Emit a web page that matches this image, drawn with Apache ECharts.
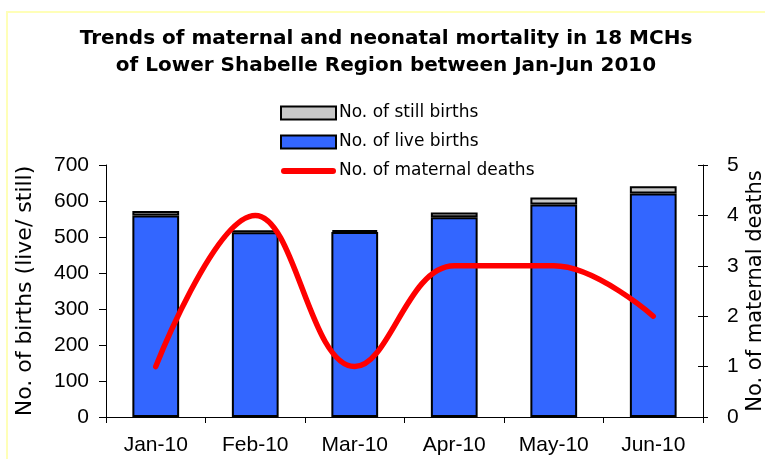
<!DOCTYPE html>
<html><head><meta charset="utf-8">
<script src="https://cdn.jsdelivr.net/npm/echarts@6/dist/echarts.min.js"></script>
<style>html,body{margin:0;padding:0;background:#fff}#c{width:765px;height:459px}</style>
</head><body><div id="c"></div>
<script>
const categories = ['Jan-10','Feb-10','Mar-10','Apr-10','May-10','Jun-10'];
const liveBirths = [560, 513, 514, 555, 590, 621];
const stillBirths = [12, 6, 5, 13, 20, 20];
const maternalDeaths = [1, 4, 1, 3, 3, 2];

const chart = echarts.init(document.getElementById('c'), null, {renderer:'canvas'});
const F = 'Liberation Sans, Arial, sans-serif';
const W = 'DejaVu Sans, Liberation Sans, sans-serif';
chart.setOption({
  animation:false,
  textStyle:{fontFamily:F},
  title:{
    text:'Trends of maternal and neonatal mortality in 18 MCHs\nof Lower Shabelle Region between Jan-Jun 2010',
    left:386, top:25, textAlign:'center', padding:0,
    textStyle:{fontSize:20, fontWeight:'bold', color:'#000', lineHeight:27, fontFamily:W}
  },
  graphic:[{type:'rect', shape:{x:7,y:12,width:770,height:460}, style:{fill:'none', stroke:'#FFFFB8', lineWidth:2}, silent:true}],
  legend:{
    orient:'vertical', left:280, top:104, itemGap:11, padding:0,
    itemWidth:55, itemHeight:13, symbolKeepAspect:true,
    textStyle:{fontSize:17, lineHeight:18, color:'#000', fontFamily:W, padding:[0,0,0,-2]},
    data:[
      {name:'No. of still births', icon:'rect', itemStyle:{color:'#C8C8C8', borderColor:'#000', borderWidth:2}},
      {name:'No. of live births', icon:'rect', itemStyle:{color:'#3366FF', borderColor:'#000', borderWidth:2}},
      {name:'No. of maternal deaths',
       icon:'path://M3,0 L52,0 A3,3 0 0 1 52,6 L3,6 A3,3 0 0 1 3,0 Z',
       itemStyle:{color:'#FF0000', borderWidth:0}, lineStyle:{width:0}}
    ]
  },
  grid:{left:106, right:62, top:165, bottom:42, containLabel:false, outerBoundsMode:'none'},
  xAxis:{
    type:'category', data:categories, boundaryGap:true,
    axisLine:{lineStyle:{color:'#000', width:1}},
    axisTick:{show:true, length:6, lineStyle:{color:'#000'}},
    axisLabel:{fontSize:21, color:'#000', margin:18, fontFamily:F}
  },
  yAxis:[
    {type:'value', min:0, max:700, interval:100, position:'left',
     name:'No. of births (live/ still)', nameLocation:'middle', nameGap:70, nameRotate:90,
     nameMoveOverlap:false,
     nameTextStyle:{fontSize:22, color:'#000', fontFamily:W},
     axisLine:{show:true, lineStyle:{color:'#000'}},
     axisTick:{show:true, length:7, lineStyle:{color:'#000'}},
     axisLabel:{fontSize:21, color:'#000', margin:17, fontFamily:F},
     splitLine:{show:false}},
    {type:'value', min:0, max:5, interval:1, position:'right',
     name:'No. of maternal deaths', nameLocation:'middle', nameGap:42, nameRotate:90,
     nameMoveOverlap:false,
     nameTextStyle:{fontSize:21, color:'#000', fontFamily:W},
     axisLine:{show:true, lineStyle:{color:'#000'}},
     axisTick:{show:true, length:5, lineStyle:{color:'#000'}},
     axisLabel:{fontSize:21, color:'#000', margin:24, fontFamily:F},
     splitLine:{show:false}},
    {type:'value', min:0, max:5, interval:1, position:'right',
     axisLine:{show:false}, axisLabel:{show:false},
     axisTick:{show:true, inside:true, length:5, lineStyle:{color:'#000'}},
     splitLine:{show:false}}
  ],
  series:[
    {name:'No. of live births', type:'bar', stack:'b', data:liveBirths, barWidth:'47%',
     itemStyle:{color:'#3366FF', borderColor:'#000', borderWidth:2}},
    {name:'No. of still births', type:'bar', stack:'b', data:stillBirths, barWidth:'47%',
     itemStyle:{color:'#C8C8C8', borderColor:'#000', borderWidth:2}},
    {name:'No. of maternal deaths', type:'line', yAxisIndex:1, data:maternalDeaths, smooth:0.4,
     symbol:'none', lineStyle:{color:'#FF0000', width:5.5, cap:'round'}, itemStyle:{color:'#FF0000'}, z:5}
  ]
});
</script></body></html>
